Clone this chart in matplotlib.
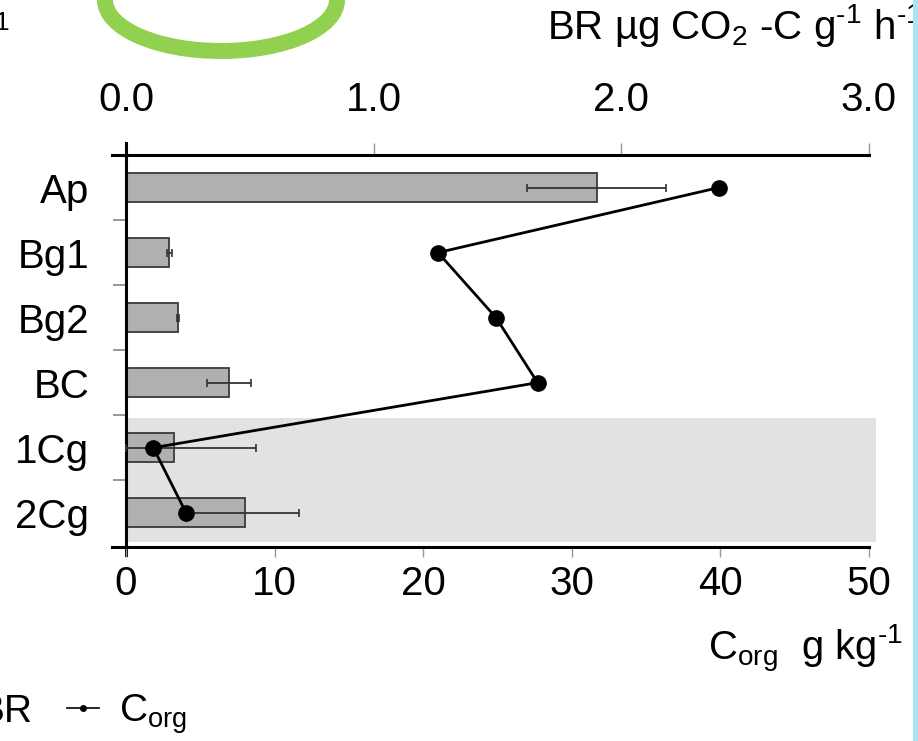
import numpy as np
import matplotlib
matplotlib.use('Agg')
import matplotlib.pyplot as plt
from matplotlib.lines import Line2D
from matplotlib.patches import Ellipse, Rectangle

plt.rcParams['font.family'] = ['Liberation Sans', 'DejaVu Sans']
plt.rcParams['mathtext.fontset'] = 'custom'
plt.rcParams['mathtext.rm'] = 'Liberation Sans'
plt.rcParams['mathtext.it'] = 'Liberation Sans'
plt.rcParams['mathtext.bf'] = 'Liberation Sans:bold'

# soil horizons, top to bottom
horizons = ['Ap', 'Bg1', 'Bg2', 'BC', '1Cg', '2Cg']
# basal respiration (bars, top axis)
br = [1.90, 0.174, 0.209, 0.416, 0.194, 0.48]
br_err_lo = [0.28, 0.01, 0.004, 0.087, 0.194, 0.22]
br_err_hi = [0.28, 0.01, 0.004, 0.087, 0.33, 0.22]
# organic carbon (line, bottom axis)
corg = [39.9, 21.0, 24.9, 27.7, 1.84, 4.04]

br_ticks = [0.0, 1.0, 2.0, 3.0]
br_ticklabels = ['0.0', '1.0', '2.0', '3.0']
c_ticks = [0, 10, 20, 30, 40, 50]
gley_band = [3.55, 5.45]   # shaded zone behind 1Cg / 2Cg

fs = 29
W, H = 918, 741
fig = plt.figure(figsize=(W / 100, H / 100), dpi=100)

c_lim = (-1.0, 50.6)
scale = 3.0 / 50.0   # BR units per Corg unit
left_px, right_px = 111.1, 877.9
top_px, bot_px = 143, 555
rect = [left_px / W, 1 - bot_px / H, (right_px - left_px) / W, (bot_px - top_px) / H]

ax_br = fig.add_axes(rect)
ax_c = ax_br.twiny()
ax_br.xaxis.tick_top()
ax_c.xaxis.tick_bottom()

y = np.arange(len(horizons))
ax_br.set_ylim(5.65, -0.685)
ax_br.set_xlim(c_lim[0] * scale, c_lim[1] * scale)
ax_c.set_xlim(*c_lim)

# shaded band
ax_br.fill_betweenx(gley_band, 0, 50.5 * scale, color='#e2e2e2', lw=0, zorder=0)

bars = ax_br.barh(y, br, height=0.45, color='#b0b0b0', edgecolor='#3a3a3a',
                  linewidth=1.3, zorder=2)
ax_br.errorbar(br, y, xerr=[br_err_lo, br_err_hi], fmt='none', ecolor='#333333',
               elinewidth=1.3, capsize=3, capthick=1.2, zorder=3)

ax_c.plot(corg, y, '-o', color='black', lw=2.0, ms=11, zorder=5)

# spines
for s in ['bottom', 'right']:
    ax_br.spines[s].set_visible(False)
ax_br.spines['top'].set_position(('data', -0.5))
ax_br.spines['top'].set_bounds(-0.94 * scale, 3.0)
ax_br.spines['top'].set_linewidth(2.2)
ax_br.spines['left'].set_position(('data', 0))
ax_br.spines['left'].set_linewidth(2.2)
for s in ['top', 'left', 'right']:
    ax_c.spines[s].set_visible(False)
ax_c.spines['bottom'].set_position(('data', 5.53))
ax_c.spines['bottom'].set_bounds(-0.94, 50)
ax_c.spines['bottom'].set_linewidth(2.2)

# ticks
ax_br.set_xticks(br_ticks)
ax_br.set_xticklabels(br_ticklabels)
ax_br.tick_params(axis='x', which='major', direction='out', length=8.6, width=1,
                  color='#999999', pad=17, labelsize=fs)
ax_c.set_xticks(c_ticks)
ax_c.tick_params(axis='x', which='major', direction='out', length=7, width=1,
                 color='#999999', pad=6, labelsize=fs)
ax_br.set_yticks(y)
ax_br.set_yticklabels(horizons)
ax_br.set_yticks(y[:-1] + 0.5, minor=True)
ax_br.tick_params(axis='y', which='major', length=0, pad=26.5, labelsize=fs)
ax_br.tick_params(axis='y', which='minor', direction='out', length=9.4, width=1.2,
                  color='#888888')

# axis titles
fig.text(547 / W, 1 - 39 / H, r'BR µg CO$_2$ -C g$^{\text{-}1}$ h$^{\text{-}1}$',
         fontsize=29, ha='left', va='baseline')
fig.text(708 / W, 1 - 660 / H, r'C$_{org}$  g kg$^{\text{-}1}$', fontsize=28.8,
         ha='left', va='baseline')
fig.text(2 / W, 1 - 30 / H, '1', fontsize=19, ha='center', va='baseline')

# legend (left part cut off by the crop)
line_key = Line2D([], [], color='black', lw=1.2, marker='o', ms=4)
fig.legend([bars, line_key], ['BR', r'C$_{org}$'], ncol=2, frameon=False,
           fontsize=28, handlelength=0.82, handletextpad=0.5, columnspacing=0.9,
           borderpad=0, borderaxespad=0, loc='lower left',
           bbox_to_anchor=(-73 / W, 5 / H))

# screenshot decorations: green circle and cyan border
ov = fig.add_axes([0, 0, 1, 1], zorder=10)
ov.set_xlim(0, W)
ov.set_ylim(H, 0)
ov.axis('off')
ov.patch.set_visible(False)
ov.add_patch(Ellipse((221, 0), 232, 102, fill=False, lw=11.5, edgecolor='#92d050'))
ov.add_patch(Rectangle((913, 0), 5, H, color='#a9e5f7', lw=0))

fig.savefig('out.png', dpi=100)
